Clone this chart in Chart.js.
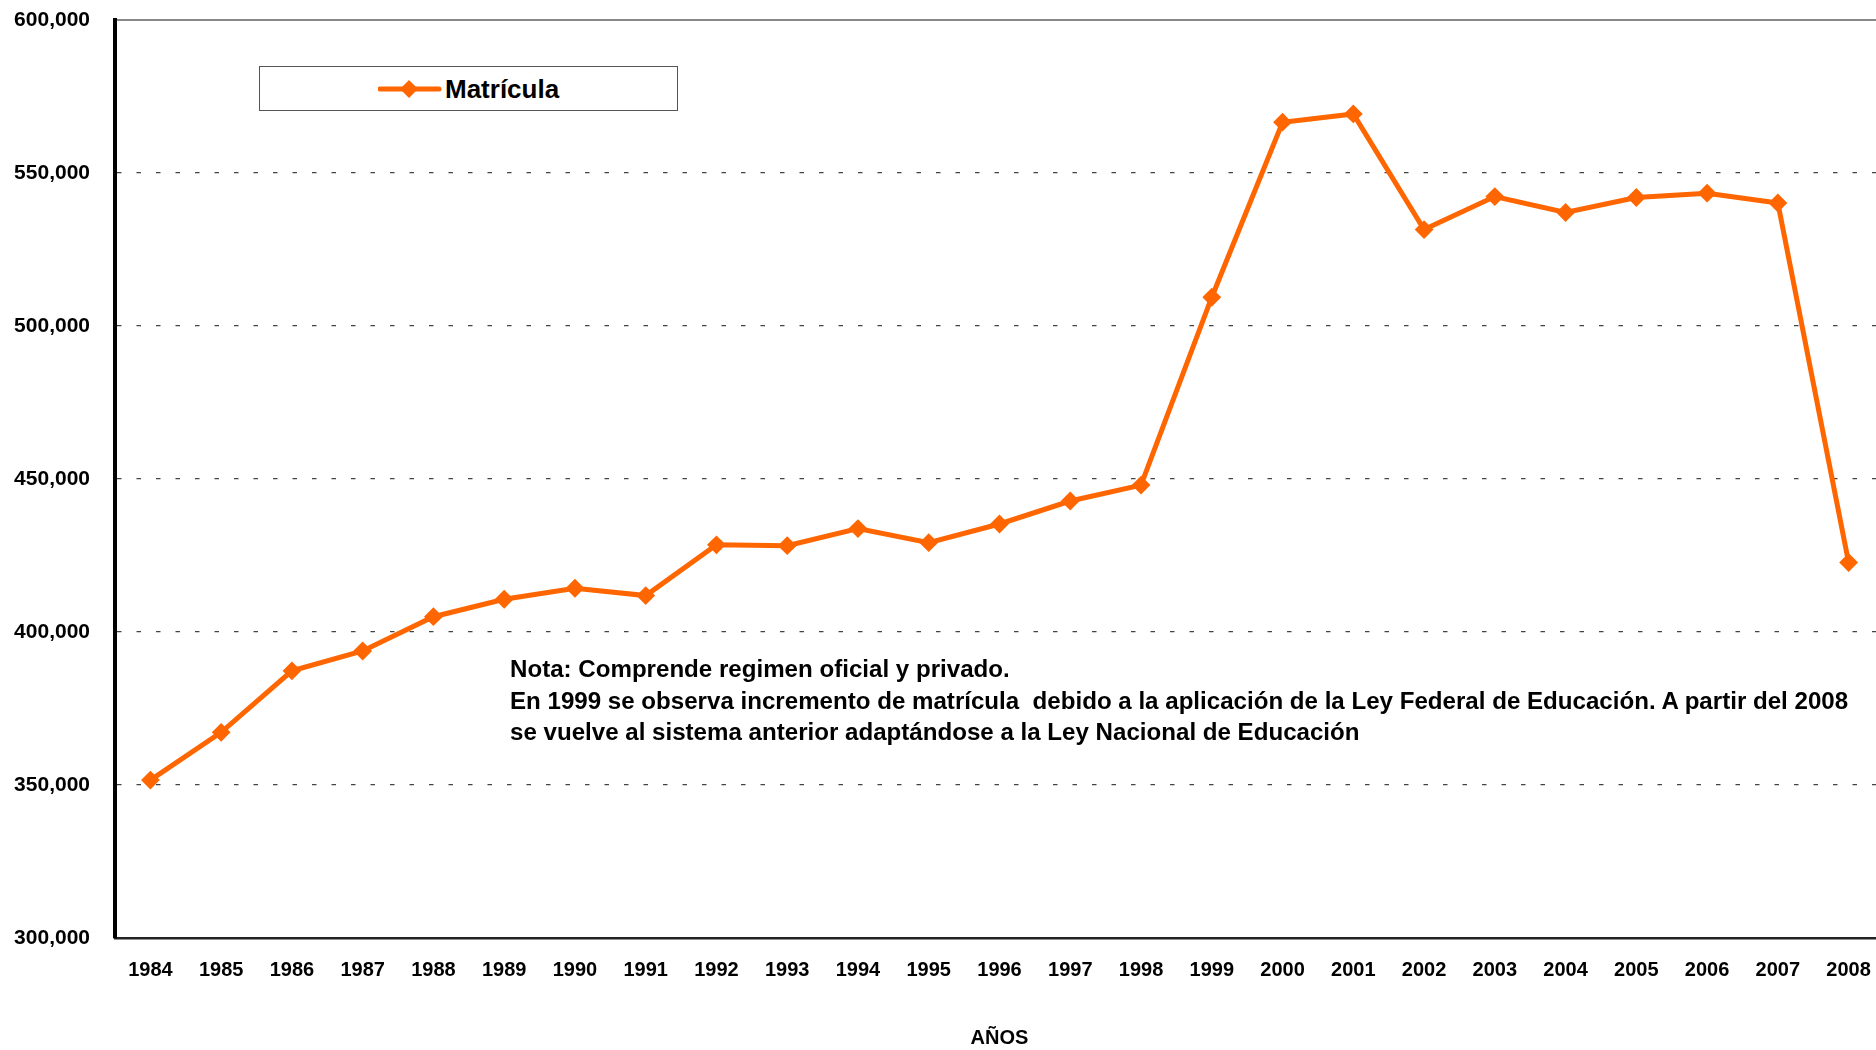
<!DOCTYPE html>
<html>
<head>
<meta charset="utf-8">
<script src="https://cdn.jsdelivr.net/npm/chart.js@4.4.1/dist/chart.umd.min.js"></script>
<style>
  html, body { margin:0; padding:0; background:#fff; overflow:hidden; width:1876px; height:1050px; }
  #wrap { position:absolute; left:0; top:0; width:1884px; height:1050px; }
  #legend { position:absolute; left:259px; top:66px; width:417px; height:43px; border:1.5px solid #555; background:#fff;
            font-family:'Liberation Sans', Arial, sans-serif; }
  #legend svg { position:absolute; left:118px; top:9px; }
  #legend span { position:absolute; left:185px; top:0; line-height:44px; font-size:26px; font-weight:bold; color:#000; }
  #note { position:absolute; left:510px; top:653px; font-family:'Liberation Sans', Arial, sans-serif; font-weight:bold;
          font-size:21px; line-height:31.5px; color:#000; white-space:pre; }
</style>
</head>
<body>
<div id="wrap"><canvas id="c"></canvas></div>
<div id="legend">
  <svg width="64" height="26" viewBox="0 0 64 26">
    <line x1="2" y1="13" x2="61" y2="13" stroke="#FF6600" stroke-width="5" stroke-linecap="round"/>
    <polygon points="31,4 40,13 31,22 22,13" fill="#FF6600"/>
  </svg>
  <span id="legendText"></span>
</div>
<div id="note"></div>
<script>
const years = ['1984','1985','1986','1987','1988','1989','1990','1991','1992','1993','1994','1995','1996',
               '1997','1998','1999','2000','2001','2002','2003','2004','2005','2006','2007','2008'];
const matricula = [351600, 367200, 387300, 393800, 405000, 410700, 414300, 411900, 428500, 428200,
                   433800, 429200, 435300, 442800, 448000, 509400, 566600, 569300, 531500, 542300,
                   537100, 542000, 543400, 540200, 422700];
const seriesName = 'Matrícula';
const yTicks = [300000, 350000, 400000, 450000, 500000, 550000, 600000];
const xTitle = 'AÑOS';
const noteLines = [
  'Nota: Comprende regimen oficial y privado.',
  'En 1999 se observa incremento de matrícula  debido a la aplicación de la Ley Federal de Educación. A partir del 2008',
  'se vuelve al sistema anterior adaptándose a la Ley Nacional de Educación'
];

document.getElementById('legendText').textContent = seriesName;
const note = document.getElementById('note');
noteLines.forEach((t) => {
  const d = document.createElement('div');
  d.textContent = t;
  note.appendChild(d);
});
// fit the long note line to its width in the reference
const probe = note.children[1];
probe.style.display = 'inline-block';
const w = probe.getBoundingClientRect().width;
probe.style.display = '';
note.style.fontSize = (21 * 1338 / w).toFixed(2) + 'px';

Chart.defaults.font.family = "'Liberation Sans', Arial, sans-serif";
Chart.defaults.color = '#000';

const topLine = {
  id: 'topLine',
  beforeDatasetsDraw(chart) {
    const {ctx, chartArea} = chart;
    ctx.save();
    ctx.strokeStyle = '#888';
    ctx.lineWidth = 2;
    ctx.beginPath();
    ctx.moveTo(chartArea.left + 2, chartArea.top);
    ctx.lineTo(chartArea.right, chartArea.top);
    ctx.stroke();
    ctx.restore();
  }
};

new Chart(document.getElementById('c'), {
  type: 'line',
  data: {
    labels: years,
    datasets: [{
      label: seriesName,
      data: matricula,
      borderColor: '#FF6600',
      backgroundColor: '#FF6600',
      borderWidth: 5,
      pointStyle: 'rectRot',
      pointRadius: 8,
      pointBorderWidth: 2,
      pointBackgroundColor: '#FF6600',
      pointBorderColor: '#FF6600',
      tension: 0
    }]
  },
  options: {
    responsive: true,
    maintainAspectRatio: false,
    animation: false,
    layout: { autoPadding: false, padding: { top: 20, left: 0, right: 0, bottom: 0 } },
    plugins: { legend: { display: false }, tooltip: { enabled: false } },
    scales: {
      x: {
        offset: true,
        grid: { display: false, drawTicks: true, tickLength: 20, tickColor: 'rgba(0,0,0,0)' },
        border: { display: true, color: '#222', width: 2.5 },
        ticks: { padding: 0, font: { size: 20, weight: 'bold' }, color: '#000', maxRotation: 0, autoSkip: false },
        title: { display: true, text: xTitle, font: { size: 20, weight: 'bold' }, color: '#000', padding: { top: 0, bottom: 0 } },
        afterFit(scale) { scale.height = 112; scale.paddingLeft = 0; scale.paddingRight = 0; }
      },
      y: {
        min: 300000,
        max: 600000,
        afterBuildTicks(scale) { scale.ticks = yTicks.map(v => ({ value: v })); },
        grid: {
          drawTicks: true,
          tickLength: 25,
          tickColor: 'rgba(0,0,0,0)',
          lineWidth: 1.2,
          color: (c) => (c.tick && (c.tick.value === 300000 || c.tick.value === 600000)) ? 'rgba(0,0,0,0)' : '#444'
        },
        border: { display: true, color: '#000', width: 4, dash: [4.5, 15] },
        ticks: {
          padding: 0,
          font: { size: 21, weight: 'bold' },
          color: '#000',
          callback: (v) => Number(v).toLocaleString('en-US')
        },
        afterFit(scale) { scale.width = 115; }
      }
    }
  },
  plugins: [topLine]
});
</script>
</body>
</html>
